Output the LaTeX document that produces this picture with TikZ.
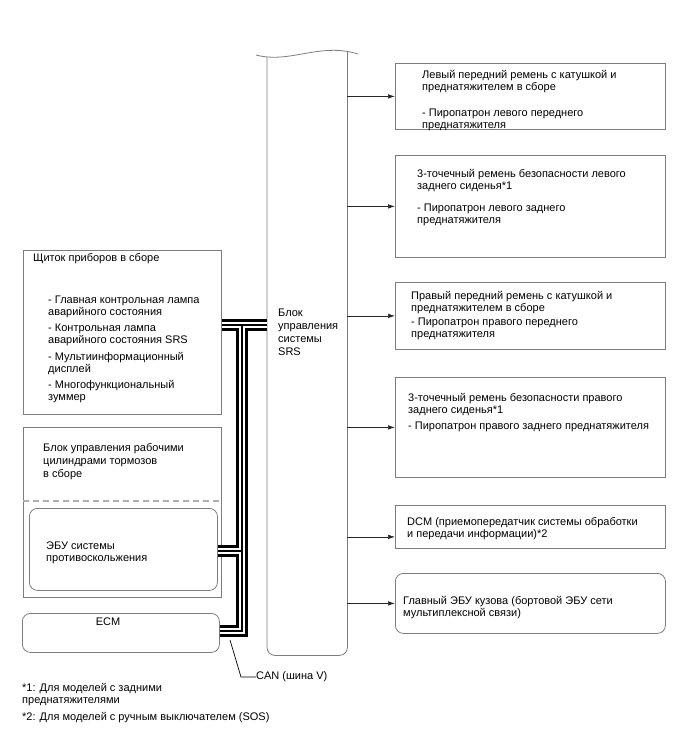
\documentclass[tikz,border=0pt]{standalone}
\usepackage{fontspec}
\setmainfont{Liberation Sans}
\usetikzlibrary{arrows.meta}

\definecolor{FrameColor}{RGB}{125,125,125}
\definecolor{DashColor}{RGB}{175,175,175}

\tikzset{
  unitbox/.style={draw=FrameColor, line width=0.8pt, inner sep=0pt, anchor=north west},
  roundbox/.style={unitbox, rounded corners=8pt},
  txt/.style={anchor=north west, inner sep=0pt, align=left, font=\fontsize{11}{12}\selectfont},
  feed/.style={-{Latex[length=7pt,width=4.5pt]}, line width=0.6pt, black!85},
  busout/.style={line width=12pt, black},
  busmid/.style={line width=6.5pt, white},
  busin/.style={line width=1.3pt, black},
}

\begin{document}
\begin{tikzpicture}[x=1pt, y=-1pt]
	\useasboundingbox (0,0) rectangle (688,755);

	% srs control unit
	\node[inner sep=0pt, minimum width=80pt, minimum height=598pt, anchor=north west] (srs) at (267,57) {};
	\draw[draw=FrameColor, line width=0.8pt, rounded corners=8pt] (srs.north west) -- (srs.south west) -- (srs.south east) -- ([yshift=5.5pt]srs.north east);
	\draw[draw=FrameColor, line width=0.8pt] (256,55) .. controls (290,64) and (320,42) .. (358,54);
	\node[txt, font=\fontsize{11}{13}\selectfont] (srstext) at (278,308.5) {Блок\\управления\\системы\\SRS};

	% receivers on the right
	\node[unitbox, minimum width=270pt, minimum height=66pt] (lfront) at (395,63) {};
	\node[txt] (lfronttext) at (422,69.7) {Левый передний ремень с катушкой и\\преднатяжителем в сборе\\[14pt]- Пиропатрон левого переднего\\преднатяжителя};

	\node[unitbox, minimum width=270pt, minimum height=102pt] (lrear) at (395,155) {};
	\node[txt] (lreartext) at (417,168.7) {3-точечный ремень безопасности левого\\заднего сиденья*1\\[10pt]- Пиропатрон левого заднего\\преднатяжителя};

	\node[unitbox, minimum width=270pt, minimum height=67pt] (rfront) at (395,282) {};
	\node[txt] (rfronttext) at (411,290.7) {Правый передний ремень с катушкой и\\преднатяжителем в сборе\\[2pt]- Пиропатрон правого переднего\\преднатяжителя};

	\node[unitbox, minimum width=270pt, minimum height=100pt] (rrear) at (395,377) {};
	\node[txt] (rreartext) at (408,392.7) {3-точечный ремень безопасности правого\\заднего сиденья*1\\[4pt]- Пиропатрон правого заднего преднатяжителя};

	\node[unitbox, minimum width=270pt, minimum height=43pt] (dcm) at (395,505) {};
	\node[txt] (dcmtext) at (407,517.7) {DCM (приемопередатчик системы обработки\\и передачи информации)*2};

	\node[roundbox, minimum width=270pt, minimum height=60pt] (mainbody) at (395,573) {};
	\node[txt] (mainbodytext) at (403,595.7) {Главный ЭБУ кузова (бортовой ЭБУ сети\\мультиплексной связи)};

	\draw[feed] (srs.east |- lfront.west) -- (lfront.west);
	\draw[feed] (srs.east |- lrear.west) -- (lrear.west);
	\draw[feed] (srs.east |- rfront.west) -- (rfront.west);
	\draw[feed] (srs.east |- rrear.west) -- (rrear.west);
	\draw[feed] ([yshift=-10pt]srs.east |- dcm.west) -- ([yshift=-10pt]dcm.west);
	\draw[feed] (srs.east |- mainbody.west) -- (mainbody.west);

	% units on the left
	\node[unitbox, minimum width=198pt, minimum height=164pt] (cluster) at (23,250) {};
	\node[txt] (clustertitle) at (33,253.7) {Щиток приборов в сборе};
	\node[txt] (clusteritems) at (48,295.7) {- Главная контрольная лампа\\аварийного состояния\\[4.5pt]- Контрольная лампа\\аварийного состояния SRS\\[4.5pt]- Мультиинформационный\\дисплей\\[4.5pt]- Многофункциональный\\зуммер};

	\node[unitbox, minimum width=198pt, minimum height=170pt] (brakeunit) at (23,427) {};
	\node[txt, font=\fontsize{11}{13}\selectfont] (brakeunittext) at (43,443.7) {Блок управления рабочими\\цилиндрами тормозов\\в сборе};
	\draw[DashColor, line width=1.2pt, dash pattern=on 6pt off 4pt] (brakeunit.west |- 0,501) -- (brakeunit.east |- 0,501);
	\node[roundbox, minimum width=188pt, minimum height=82pt] (skidecu) at (29,508) {};
	\node[txt] (skidecutext) at (46,541.7) {ЭБУ системы\\противоскольжения};

	\node[roundbox, minimum width=197pt, minimum height=39pt] (ecm) at (22,613) {};
	\node[txt, anchor=base] (ecmtext) at (108,625.5) {ECM};

	% can bus
	\coordinate (busTop) at (242,325);
	\coordinate (busMid) at (242,551);
	\coordinate (busEnd) at (242,631);
	\foreach \w in {busout,busmid,busin}
		\draw[\w] (cluster.east |- busTop) -- (srs.west |- busTop)
			(busTop) -- (busEnd) -- (ecm.east |- busEnd)
			(skidecu.east |- busMid) -- (busMid);

	\node[txt, anchor=west] (canlabel) at (256,677) {CAN (шина V)};
	\coordinate (canTap) at (230,640);
	\draw[line width=0.7pt] (canTap) -- ++(11,37) -- (canlabel.west);

	% notes
	\node[txt] (note1) at (22,682.7) {*1: Для моделей с задними\\преднатяжителями};
	\node[txt, anchor=base west] (note2) at (22,720.5) {*2: Для моделей с ручным выключателем (SOS)};
\end{tikzpicture}
\end{document}
